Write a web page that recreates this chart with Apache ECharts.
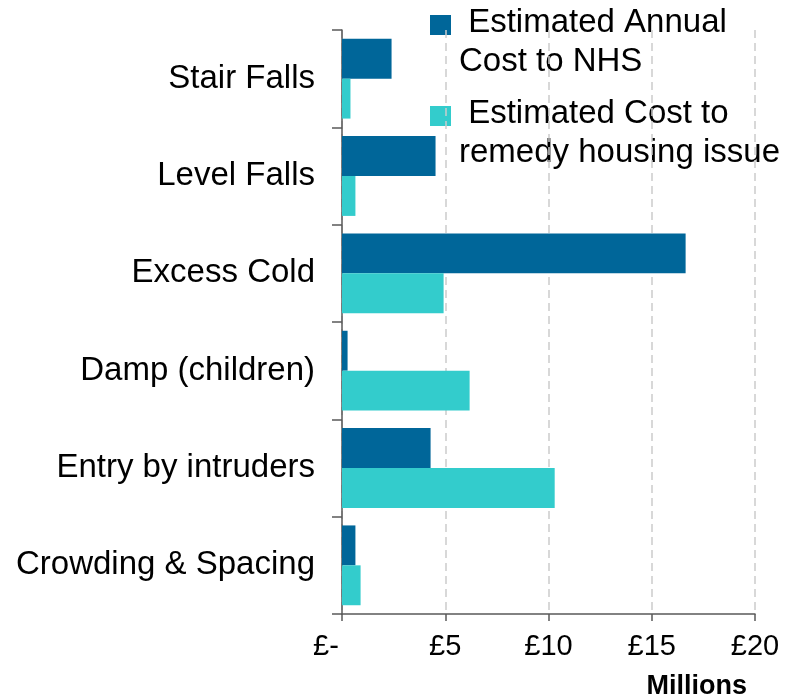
<!DOCTYPE html>
<html>
<head>
<meta charset="utf-8">
<script src="https://cdn.jsdelivr.net/npm/echarts@6/dist/echarts.min.js"></script>
<style>html,body{margin:0;padding:0;background:#fff}#c{width:790px;height:695px}</style>
</head>
<body>
<div id="c"></div>
<script>
const categories = ['Stair Falls', 'Level Falls', 'Excess Cold', 'Damp (children)', 'Entry by intruders', 'Crowding & Spacing'];
const nhsCost = [2.40, 4.53, 16.64, 0.27, 4.29, 0.65];
const remedyCost = [0.41, 0.65, 4.92, 6.18, 10.30, 0.90];
const seriesNames = ['Estimated Annual Cost to NHS', 'Estimated Cost to remedy housing issue'];
const xTicks = [0, 5, 10, 15, 20];

const C_NHS = '#006699';
const C_REM = '#33CCCC';
const FONT = 'Liberation Sans, Arial, sans-serif';

const chart = echarts.init(document.getElementById('c'), null, {renderer: 'canvas'});
chart.setOption({
  animation: false,
  backgroundColor: '#fff',
  textStyle: {fontFamily: FONT},
  grid: {left: 342, right: 35, top: 30, bottom: 81, containLabel: false},
  title: {
    text: 'Millions', right: 38, top: 668,
    textStyle: {fontFamily: FONT, fontSize: 27, fontWeight: 'bold', color: '#000'}
  },
  xAxis: {
    type: 'value', min: xTicks[0], max: xTicks[xTicks.length - 1], interval: 5,
    axisLine: {show: true, lineStyle: {color: '#595959', width: 1.5}},
    axisTick: {show: true, length: 7, lineStyle: {color: '#595959', width: 1.5}},
    splitLine: {show: true, lineStyle: {color: '#cccccc', width: 1.5, type: [8, 5]}},
    axisLabel: {
      margin: 18, color: '#000', fontSize: 29, fontFamily: FONT,
      formatter: v => v === 0 ? '{z|£-}' : '£' + v,
      rich: {z: {fontSize: 29, fontFamily: FONT, color: '#000', padding: [0, 32, 0, 0]}}
    }
  },
  yAxis: {
    type: 'category', data: categories, inverse: true,
    axisLine: {show: true, lineStyle: {color: '#595959', width: 1.5}},
    axisTick: {show: true, length: 10, lineStyle: {color: '#595959', width: 1.5}},
    axisLabel: {margin: 27, color: '#000', fontSize: 33, fontFamily: FONT}
  },
  series: [
    {name: seriesNames[0], type: 'bar', data: nhsCost, barGap: '0%', barCategoryGap: '18%', itemStyle: {color: C_NHS}},
    {name: seriesNames[1], type: 'bar', data: remedyCost, barGap: '0%', barCategoryGap: '18%', itemStyle: {color: C_REM}}
  ],
  graphic: [
    {type: 'rect', left: 430, top: 15, shape: {width: 21, height: 20}, style: {fill: C_NHS}},
    {type: 'text', left: 459, top: 3, style: {text: ' Estimated Annual\nCost to NHS', font: '33px ' + FONT, fill: '#000', lineHeight: 39}},
    {type: 'rect', left: 430, top: 106, shape: {width: 21, height: 20}, style: {fill: C_REM}},
    {type: 'text', left: 459, top: 94, style: {text: ' Estimated Cost to\nremedy housing issue', font: '33px ' + FONT, fill: '#000', lineHeight: 39}}
  ]
});
</script>
</body>
</html>
